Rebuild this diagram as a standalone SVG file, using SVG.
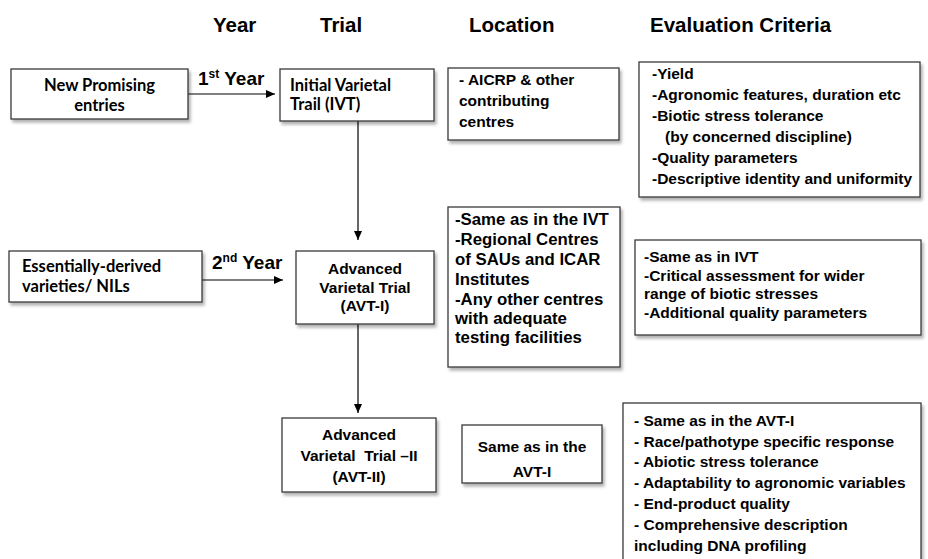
<svg xmlns="http://www.w3.org/2000/svg" width="928" height="559" viewBox="0 0 928 559">
<style>
.box{fill:#fff;stroke:#3a3a3a;stroke-width:1.3;filter:url(#sh)}
.hd{font-family:"Liberation Sans",Arial,sans-serif;font-weight:bold;font-size:20.5px;fill:#000}
.t{font-family:"Liberation Sans",Arial,sans-serif;font-weight:bold;font-size:15.5px;fill:#000}
.t17{font-family:"Liberation Sans",Arial,sans-serif;font-weight:bold;font-size:16.8px;fill:#000}
.c{font-family:Lato,"Open Sans",sans-serif;font-weight:bold;font-size:16.5px;fill:#000}
.yr{font-family:"Liberation Sans",Arial,sans-serif;font-weight:bold;font-size:19px;fill:#000}
.mid{text-anchor:middle}
.ln{stroke:#000;stroke-width:1.2;fill:none;marker-end:url(#ah)}
</style>
<defs>
<filter id="sh" x="-10%" y="-10%" width="130%" height="140%">
<feDropShadow dx="2" dy="3" stdDeviation="1.5" flood-color="#000" flood-opacity="0.3"/>
</filter>
<marker id="ah" markerWidth="10" markerHeight="10" refX="9" refY="5" orient="auto" markerUnits="userSpaceOnUse">
<path d="M0,1 L9,5 L0,9 Z" fill="#000"/>
</marker>
</defs>
<rect width="928" height="559" fill="#fff"/>
<g id="headers">
<text class="hd" x="213" y="32">Year</text>
<text class="hd" x="320" y="32">Trial</text>
<text class="hd" x="469" y="32">Location</text>
<text class="hd" x="650" y="32">Evaluation Criteria</text>
</g>
<g id="connectors">
<line class="ln" x1="188" y1="94" x2="275" y2="94"/>
<line class="ln" x1="202" y1="280" x2="283" y2="280"/>
<line class="ln" x1="358" y1="121" x2="358" y2="240"/>
<line class="ln" x1="358" y1="324" x2="358" y2="413"/>
<text class="yr" x="198" y="85">1<tspan font-size="12" dy="-7">st</tspan><tspan dy="7"> Year</tspan></text>
<text class="yr" x="212" y="269">2<tspan font-size="12" dy="-7">nd</tspan><tspan dy="7"> Year</tspan></text>
</g>
<g id="new-promising">
<rect class="box" x="11" y="69" width="177" height="50"/>
<text class="c mid" x="99.5" y="91">New Promising</text>
<text class="c mid" x="99.5" y="111">entries</text>
</g>
<g id="ivt">
<rect class="box" x="280" y="69" width="154" height="52"/>
<text class="c" x="290" y="91">Initial Varietal</text>
<text class="c" x="290" y="110">Trail (IVT)</text>
</g>
<g id="loc-ivt">
<rect class="box" x="448" y="68" width="171" height="72"/>
<text class="t" x="459" y="85">- AICRP &amp; other</text>
<text class="t" x="459" y="106">contributing</text>
<text class="t" x="459" y="127">centres</text>
</g>
<g id="eval-ivt">
<rect class="box" x="639" y="62" width="281" height="135"/>
<text class="t" x="652" y="79">-Yield</text>
<text class="t" x="652" y="100">-Agronomic features, duration etc</text>
<text class="t" x="652" y="121">-Biotic stress tolerance</text>
<text class="t" x="652" y="142">   <tspan x="665">(by concerned discipline)</tspan></text>
<text class="t" x="652" y="163">-Quality parameters</text>
<text class="t" x="652" y="184">-Descriptive identity and uniformity</text>
</g>
<g id="essentially-derived">
<rect class="box" x="9" y="251" width="193" height="51"/>
<text class="c" x="22" y="272">Essentially-derived</text>
<text class="c" x="22" y="292">varieties/ NILs</text>
</g>
<g id="avt1">
<rect class="box" x="296" y="251" width="138" height="73"/>
<text class="t mid" x="365" y="274">Advanced</text>
<text class="t mid" x="365" y="292.5">Varietal Trial</text>
<text class="t mid" x="365" y="311">(AVT-I)</text>
</g>
<g id="loc-avt1">
<rect class="box" x="448" y="207" width="172" height="160"/>
<text class="t17" x="455" y="225">-Same as in the IVT</text>
<text class="t17" x="455" y="245">-Regional Centres</text>
<text class="t17" x="455" y="265">of SAUs and ICAR</text>
<text class="t17" x="455" y="285">Institutes</text>
<text class="t17" x="455" y="305">-Any other centres</text>
<text class="t17" x="455" y="324">with adequate</text>
<text class="t17" x="455" y="343">testing facilities</text>
</g>
<g id="eval-avt1">
<rect class="box" x="635" y="240" width="286" height="95"/>
<text class="t" x="644" y="262">-Same as in IVT</text>
<text class="t" x="644" y="281">-Critical assessment for wider</text>
<text class="t" x="644" y="299">range of biotic stresses</text>
<text class="t" x="644" y="318">-Additional quality parameters</text>
</g>
<g id="avt2">
<rect class="box" x="282" y="418" width="154" height="74"/>
<text class="t mid" x="359" y="440">Advanced</text>
<text class="t mid" x="359" y="461" xml:space="preserve">Varietal  Trial –II</text>
<text class="t mid" x="359" y="482">(AVT-II)</text>
</g>
<g id="loc-avt2">
<rect class="box" x="462" y="425" width="140" height="58"/>
<text class="t mid" x="532" y="452">Same as in the</text>
<text class="t mid" x="532" y="477">AVT-I</text>
</g>
<g id="eval-avt2">
<rect class="box" x="623" y="403" width="298" height="170"/>
<text class="t" x="634" y="426">- Same as in the AVT-I</text>
<text class="t" x="634" y="447">- Race/pathotype specific response</text>
<text class="t" x="634" y="467">- Abiotic stress tolerance</text>
<text class="t" x="634" y="488">- Adaptability to agronomic variables</text>
<text class="t" x="634" y="509">- End-product quality</text>
<text class="t" x="634" y="530">- Comprehensive description</text>
<text class="t" x="634" y="551">including DNA profiling</text>
</g>
</svg>
